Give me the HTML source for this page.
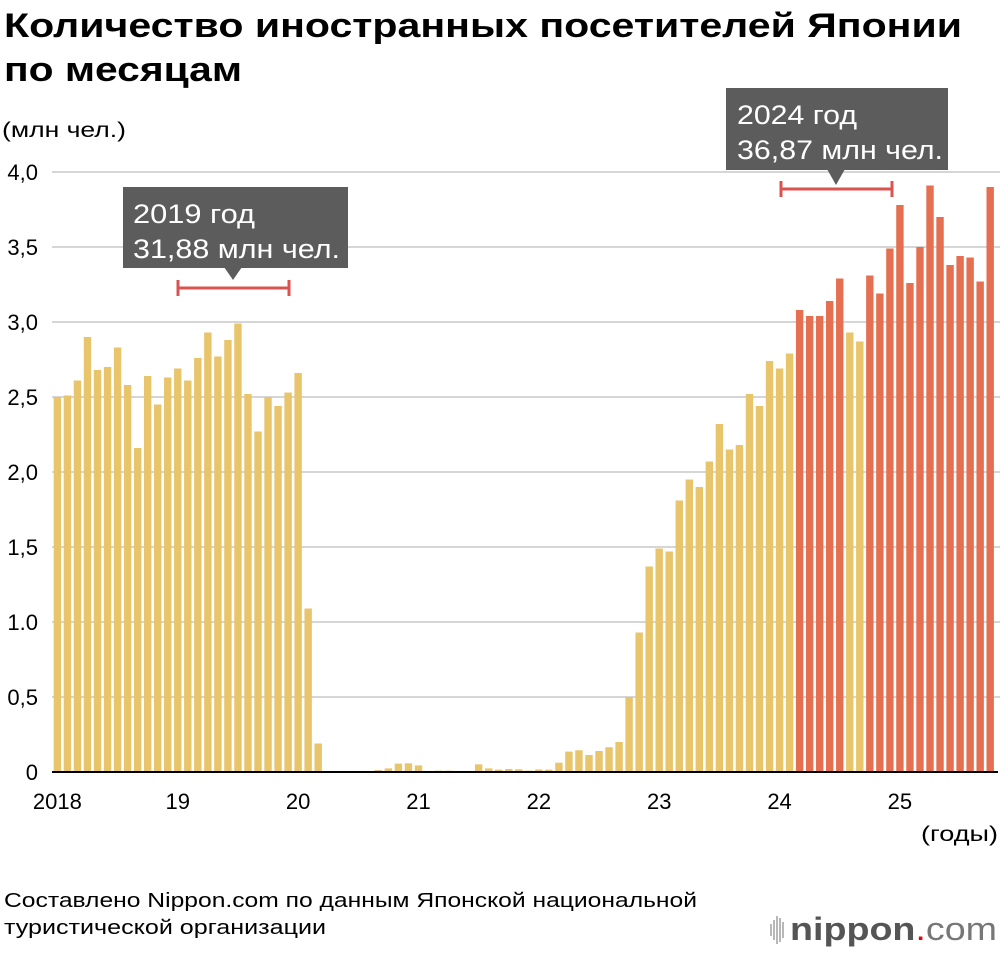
<!DOCTYPE html>
<html><head><meta charset="utf-8">
<style>
body{margin:0;background:#fff;}
svg{display:block;font-family:"Liberation Sans",sans-serif;}
</style></head>
<body>
<svg id="chart" width="1000" height="954" viewBox="0 0 1000 954" xmlns="http://www.w3.org/2000/svg">
<text x="4" y="37" font-size="34" font-weight="bold" fill="#000" textLength="958" lengthAdjust="spacingAndGlyphs">Количество иностранных посетителей Японии</text>
<text x="4" y="81" font-size="34" font-weight="bold" fill="#000" textLength="238" lengthAdjust="spacingAndGlyphs">по месяцам</text>
<text x="2" y="137" font-size="21" fill="#000" textLength="124" lengthAdjust="spacingAndGlyphs">(млн чел.)</text>
<text x="921" y="841" font-size="21" fill="#000" textLength="77" lengthAdjust="spacingAndGlyphs">(годы)</text>
<g id="grid"></g>
<g id="bars"></g>
<line x1="52" y1="772" x2="998" y2="772" stroke="#000" stroke-width="2"/>
<g id="xlabels"></g>
<g>
<rect x="123" y="187" width="225" height="81" fill="#5c5c5c"/>
<polygon points="224,267 242,267 233,280" fill="#5c5c5c"/>
<text x="133" y="223" font-size="27" fill="#fff" textLength="122" lengthAdjust="spacingAndGlyphs">2019 год</text>
<text x="133" y="258" font-size="27" fill="#fff" textLength="207" lengthAdjust="spacingAndGlyphs">31,88 млн чел.</text>
</g>
<g stroke="#d9534f" stroke-width="3">
<line x1="178" y1="288" x2="289" y2="288"/><line x1="178" y1="280" x2="178" y2="296"/><line x1="289" y1="280" x2="289" y2="296"/>
</g>
<g>
<rect x="726" y="88" width="222" height="82" fill="#5c5c5c"/>
<polygon points="827,169 845,169 836,185" fill="#5c5c5c"/>
<text x="737" y="124" font-size="27" fill="#fff" textLength="120" lengthAdjust="spacingAndGlyphs">2024 год</text>
<text x="737" y="159" font-size="27" fill="#fff" textLength="206" lengthAdjust="spacingAndGlyphs">36,87 млн чел.</text>
</g>
<g stroke="#d9534f" stroke-width="3">
<line x1="781" y1="189" x2="892" y2="189"/><line x1="781" y1="181" x2="781" y2="197"/><line x1="892" y1="181" x2="892" y2="197"/>
</g>
<text x="4" y="907" font-size="20" fill="#000" textLength="693" lengthAdjust="spacingAndGlyphs">Составлено Nippon.com по данным Японской национальной</text>
<text x="4" y="934" font-size="20" fill="#000" textLength="322" lengthAdjust="spacingAndGlyphs">туристической организации</text>
<g>
<g stroke="#888" stroke-width="1.2">
<line x1="771" y1="924" x2="771" y2="936"/><line x1="774" y1="920" x2="774" y2="940"/><line x1="777" y1="916" x2="777" y2="944"/><line x1="780" y1="918" x2="780" y2="942"/><line x1="783" y1="922" x2="783" y2="938"/>
</g>
<text x="790" y="940" font-size="32" fill="#555" textLength="207" lengthAdjust="spacingAndGlyphs"><tspan font-weight="bold">nippon</tspan><tspan fill="#e60012">.</tspan><tspan fill="#777">com</tspan></text>
</g>
</svg>
<script>
const yTicks = [0, 0.5, 1.0, 1.5, 2.0, 2.5, 3.0, 3.5, 4.0];
const yTickLabels = ["0", "0,5", "1.0", "1,5", "2,0", "2,5", "3,0", "3,5", "4,0"];
const yearLabels = ["2018", "19", "20", "21", "22", "23", "24", "25"];
const values = [
2.50,2.51,2.61,2.90,2.68,2.70,2.83,2.58,2.16,2.64,2.45,2.63,
2.69,2.61,2.76,2.93,2.77,2.88,2.99,2.52,2.27,2.50,2.44,2.53,
2.66,1.09,0.19,0.002,0.002,0.002,0.003,0.007,0.013,0.024,0.056,0.058,
0.044,0.005,0.009,0.009,0.007,0.007,0.051,0.024,0.016,0.020,0.018,0.009,
0.017,0.016,0.062,0.136,0.145,0.113,0.14,0.165,0.20,0.50,0.93,1.37,
1.49,1.47,1.81,1.95,1.90,2.07,2.32,2.15,2.18,2.52,2.44,2.74,
2.69,2.79,3.08,3.04,3.04,3.14,3.29,2.93,2.87,3.31,3.19,3.49,
3.78,3.26,3.50,3.91,3.70,3.38,3.44,3.43,3.27,3.90
];
const highlightThreshold = 3.0;
const NS = "http://www.w3.org/2000/svg";
const x0 = 53.7, pitch = 10.03, bw = 7.4;
function yScale(v){ return 772 - v*150; }
function xScale(i){ return x0 + i*pitch; }
const grid = document.getElementById('grid');
yTicks.forEach((t,i)=>{
  if(t>0){
    const l=document.createElementNS(NS,'line');
    
    
    l.setAttribute('x1',52);l.setAttribute('x2',1000);
    l.setAttribute('y1',yScale(t));l.setAttribute('y2',yScale(t));
    l.setAttribute('stroke','#c8c8c8');l.setAttribute('stroke-width','1.5');
    grid.appendChild(l);
  }
  const tx=document.createElementNS(NS,'text');
  
  
  tx.setAttribute('x',38);tx.setAttribute('y',yScale(t)+8);
  tx.setAttribute('text-anchor','end');tx.setAttribute('font-size','22');
  tx.textContent=yTickLabels[i];
  grid.appendChild(tx);
});
const bars=document.getElementById('bars');
values.forEach((v,i)=>{
  const r=document.createElementNS(NS,'rect');
  
  
  r.setAttribute('x',xScale(i));r.setAttribute('width',bw);
  r.setAttribute('y',yScale(v));r.setAttribute('height',772-yScale(v));
  r.setAttribute('fill', v>highlightThreshold ? '#e57051' : '#e8c46a');
  bars.appendChild(r);
});
const xl=document.getElementById('xlabels');
yearLabels.forEach((lab,i)=>{
  const t=document.createElementNS(NS,'text');
  
  
  t.setAttribute('x',xScale(i*12)+bw/2);t.setAttribute('y',809);
  t.setAttribute('text-anchor','middle');t.setAttribute('font-size','22');
  t.textContent=lab;
  xl.appendChild(t);
});
</script>
</body></html>
